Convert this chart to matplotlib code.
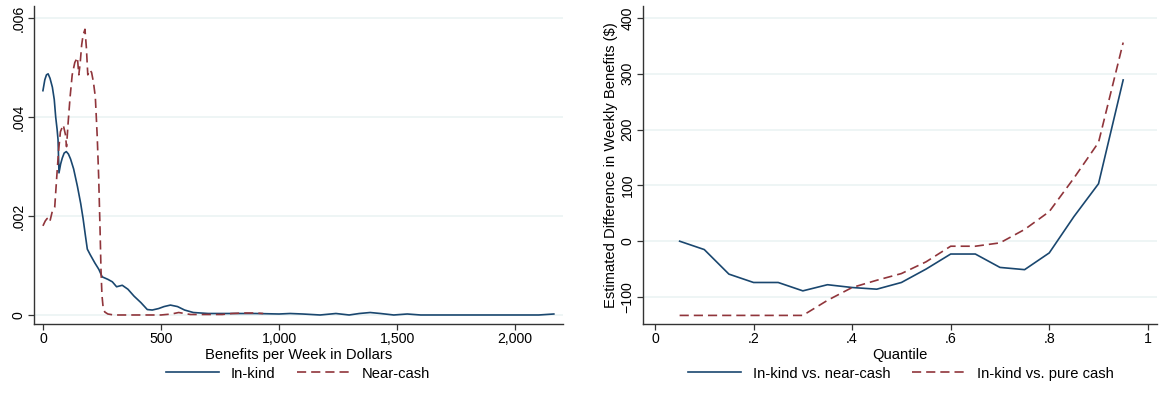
import matplotlib
matplotlib.use("Agg")
import matplotlib.pyplot as plt
from matplotlib.ticker import FuncFormatter

plt.rcParams['font.family'] = ['Liberation Sans', 'DejaVu Sans']

# Kernel density of weekly benefits (dollars), values read in units of 1e-3
inkind_x = [0, 8, 15, 22, 30, 40, 48, 54, 60, 64, 68, 75, 82, 90, 99, 108, 117,
            130, 146, 160, 170, 180, 188, 200, 220, 237, 251, 275, 294, 312,
            336, 360, 386, 415, 442, 463, 490, 513, 540, 570, 600, 637, 700,
            800, 900, 1000, 1047, 1100, 1174, 1241, 1297, 1340, 1386, 1430,
            1486, 1543, 1600, 1628, 1700, 1800, 1900, 2000, 2100, 2164]
inkind_d = [4.53, 4.75, 4.85, 4.87, 4.78, 4.60, 4.35, 4.00, 3.75, 3.54, 2.87,
            3.05, 3.17, 3.27, 3.30, 3.25, 3.15, 2.95, 2.60, 2.25, 1.95, 1.60,
            1.33, 1.22, 1.05, 0.92, 0.77, 0.72, 0.67, 0.57, 0.60, 0.52, 0.38,
            0.25, 0.11, 0.10, 0.13, 0.17, 0.20, 0.17, 0.10, 0.05, 0.03, 0.03,
            0.03, 0.02, 0.03, 0.02, 0.00, 0.03, 0.00, 0.03, 0.05, 0.03, 0.00,
            0.02, 0.00, 0.00, 0.00, 0.00, 0.00, 0.00, 0.00, 0.02]

nearcash_x = [0, 10, 18, 29, 40, 50, 58, 66, 74, 86, 95, 100, 107, 115, 124,
              135, 146, 152, 158, 164, 170, 178, 184, 190, 198, 206, 214, 222,
              230, 236, 242, 246, 250, 255, 262, 275, 300, 400, 500, 545, 575,
              600, 625, 700, 760, 800, 850, 900, 933]
nearcash_d = [1.80, 1.90, 1.95, 1.88, 2.10, 2.18, 2.75, 3.30, 3.70, 3.84, 3.65,
              3.40, 3.90, 4.40, 4.85, 5.10, 5.20, 4.85, 5.10, 5.45, 5.65, 5.77,
              5.40, 4.85, 4.95, 4.90, 4.70, 4.40, 3.60, 2.80, 1.72, 0.90, 0.40,
              0.15, 0.06, 0.02, 0.00, 0.00, 0.00, 0.02, 0.05, 0.03, 0.01, 0.01,
              0.01, 0.03, 0.04, 0.04, 0.03]

# Quantile treatment differences in weekly benefits ($)
quantiles = [0.05, 0.10, 0.15, 0.20, 0.25, 0.30, 0.35, 0.40, 0.45, 0.50,
             0.55, 0.60, 0.65, 0.70, 0.75, 0.80, 0.85, 0.90, 0.95]
diff_nearcash = [0, -15, -59, -74, -74, -89, -78, -83, -86, -74,
                 -50, -23, -23, -47, -51, -21, 44, 103, 289]
diff_purecash = [-133, -133, -133, -133, -133, -133, -106, -83, -70, -58,
                 -37, -9, -9, -3, 21, 53, 113, 177, 356]

NAVY = '#1a476f'
MAROON = '#90353b'
GRID = '#eaf2f3'
AXIS = '#333333'
DASH = (0, (5.5, 3))
FS = 10.6
TICK_FS = 10.2


def stata_fmt(v, pos):
    s = f"{v:g}"
    if s.startswith("0.") and len(s) > 2:
        s = s[1:]
    return s


def style_axes(ax):
    for side in ("top", "right"):
        ax.spines[side].set_visible(False)
    for side in ("left", "bottom"):
        ax.spines[side].set_color(AXIS)
        ax.spines[side].set_linewidth(1.0)
    ax.tick_params(direction="out", length=4, width=0.9, color=AXIS,
                   labelsize=TICK_FS, pad=2)
    ax.yaxis.grid(True, color=GRID, linewidth=1.1)
    ax.set_axisbelow(True)
    for lbl in ax.get_yticklabels():
        lbl.set_rotation(90)
        lbl.set_va("center")


fig = plt.figure(figsize=(11.59, 4.0), dpi=100)
ax1 = fig.add_axes([0.0293, 0.19, 0.4565, 0.795])
ax2 = fig.add_axes([0.5548, 0.19, 0.4432, 0.795])

# Left: densities
ax1.plot(inkind_x, [d / 1000 for d in inkind_d], color=NAVY,
         lw=1.2, label="In-kind")
ax1.plot(nearcash_x, [d / 1000 for d in nearcash_d], color=MAROON, lw=1.2,
         ls=DASH, label="Near-cash")
ax1.set_xlim(-38, 2203)
ax1.set_ylim(-0.000182, 0.00624)
ax1.set_xticks([0, 500, 1000, 1500, 2000])
ax1.set_xticklabels(["0", "500", "1,000", "1,500", "2,000"])
ax1.set_yticks([0, 0.002, 0.004, 0.006])
ax1.yaxis.set_major_formatter(FuncFormatter(stata_fmt))
style_axes(ax1)
ax1.set_xlabel("Benefits per Week in Dollars", fontsize=FS, labelpad=1)

# Right: quantile differences
ax2.plot(quantiles, diff_nearcash, color=NAVY, lw=1.2,
         label="In-kind vs. near-cash")
ax2.plot(quantiles, diff_purecash, color=MAROON, lw=1.2, ls=DASH,
         label="In-kind vs. pure cash")
ax2.set_xlim(-0.0243, 1.018)
ax2.set_ylim(-148.4, 421.5)
ax2.set_xticks([0, 0.2, 0.4, 0.6, 0.8, 1.0])
ax2.xaxis.set_major_formatter(FuncFormatter(stata_fmt))
ax2.set_yticks([-100, 0, 100, 200, 300, 400])
style_axes(ax2)
ax2.set_xlabel("Quantile", fontsize=FS, labelpad=1)
ax2.set_ylabel("Estimated Difference in Weekly Benefits ($)", fontsize=FS,
               labelpad=2)

for ax, cx in ((ax1, 298 / 1159), (ax2, 901 / 1159)):
    ax.legend(loc="center", bbox_to_anchor=(cx, 0.066),
              bbox_transform=fig.transFigure, ncol=2, frameon=False,
              fontsize=FS, handlelength=3.6, columnspacing=1.5,
              handletextpad=0.8)

fig.savefig("out.png", dpi=100)
